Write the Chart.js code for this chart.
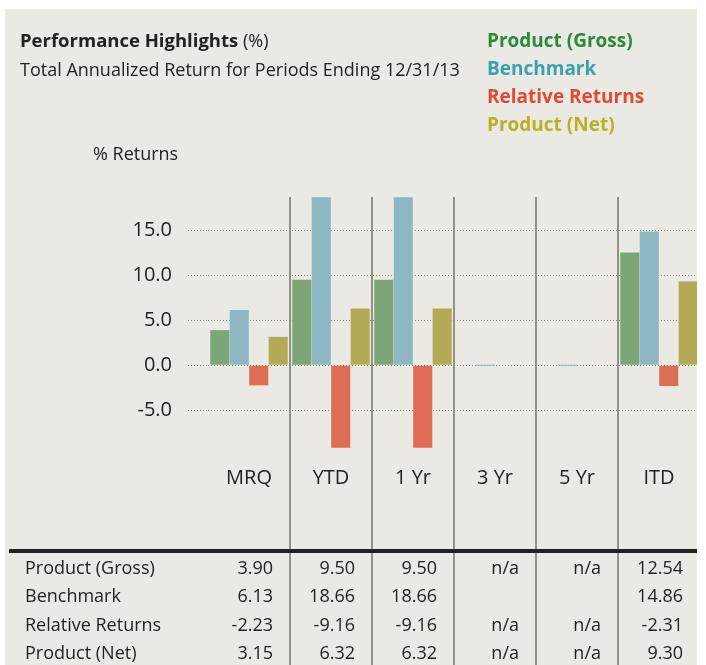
<!DOCTYPE html>
<html>
<head>
<meta charset="utf-8">
<script src="https://cdn.jsdelivr.net/npm/chart.js@4.4.1/dist/chart.umd.min.js"></script>
<style>
  body { margin: 0; background: #fff; width: 706px; height: 665px; overflow: hidden; }
  #panel { position: absolute; left: 5px; top: 9px; width: 692px; height: 656px; background: #eae9e3; overflow: hidden; }
  #page { position: absolute; left: -5px; top: -9px; width: 706px; height: 665px; }
  #page div.t { position: absolute; white-space: nowrap; font-family: "Open Sans", sans-serif; color: #222; }
  canvas { position: absolute; left: 0; top: 0; }
  #rule { position: absolute; left: 9px; top: 549px; width: 700px; height: 4px; background: #222; }
</style>
</head>
<body>
<div id="panel">
  <div id="page">
    <canvas id="myChart" width="706" height="665"></canvas>
    <div class="t" style="left:20px; top:27px; font-size:18px; line-height:26px;"><b style="font-size:18.5px">Performance Highlights</b> (%)</div>
    <div class="t" style="left:20px; top:56px; font-size:18px; line-height:26px;">Total Annualized Return for Periods Ending 12/31/13</div>
    <div id="legend"></div>
    <div class="t" style="left:93px; top:140px; font-size:18px; line-height:26px;">% Returns</div>
    <div id="rule"></div>
    <div id="table"></div>
  </div>
</div>
<script>
// categories and values
const periods = ['MRQ', 'YTD', '1 Yr', '3 Yr', '5 Yr', 'ITD'];
const seriesNames = ['Product (Gross)', 'Benchmark', 'Relative Returns', 'Product (Net)'];
const gross = [3.90, 9.50, 9.50, null, null, 12.54];
const benchmark = [6.13, 18.66, 18.66, 0, 0, 14.86];
const relative = [-2.23, -9.16, -9.16, null, null, -2.31];
const net = [3.15, 6.32, 6.32, null, null, 9.30];
const yTicks = [-5, 0, 5, 10, 15];

const barColors = ['#7ca677', '#8db8c3', '#dd6d54', '#b4aa55'];
const legendColors = ['#2b8a3e', '#3aa1ae', '#e04a31', '#b9b124'];
const allSeries = [gross, benchmark, relative, net];

// legend (html)
const legend = document.getElementById('legend');
seriesNames.forEach(function (name, i) {
	const d = document.createElement('div');
	d.className = 't';
	d.style.cssText = 'left:487px; top:' + (27 + i * 28) + 'px; font-size:19px; line-height:26px; font-weight:bold; color:' + legendColors[i];
	d.textContent = name;
	legend.appendChild(d);
});

const lineColor = '#929185';
function sepColor(ctx) {
	return ctx.index === 0 ? 'rgba(0,0,0,0)' : lineColor;
}

const chart = new Chart('myChart', {
	type: 'bar',
	data: {
		labels: periods,
		datasets: allSeries.map(function (vals, i) {
			return {
				label: seriesNames[i],
				data: vals,
				backgroundColor: barColors[i],
				borderWidth: 0,
				minBarLength: i === 1 ? 1 : 0,
				categoryPercentage: 0.95,
				barPercentage: 0.98
			};
		})
	},
	options: {
		responsive: false,
		animation: false,
		events: [],
		layout: { padding: { top: 197, right: 6, bottom: 0, left: 0 } },
		plugins: { legend: { display: false }, tooltip: { enabled: false } },
		scales: {
			x: {
				afterFit: function (s) { s.height = 217; },
				border: { display: false },
				grid: {
					offset: true,
					color: sepColor,
					tickColor: sepColor,
					lineWidth: 2,
					tickLength: 217
				},
				ticks: {
					padding: -199,
					color: '#222',
					font: { family: 'Open Sans', size: 20 }
				}
			},
			y: {
				min: -9.2,
				max: 18.7,
				afterFit: function (s) { s.width = 208; },
				afterBuildTicks: function (s) {
					s.ticks = yTicks.map(function (v) { return { value: v }; });
				},
				border: { display: false, dash: [1, 2] },
				grid: {
					color: '#8a8a82',
					lineWidth: 1,
					tickLength: 20,
					tickBorderDash: [1, 2]
				},
				ticks: {
					padding: 16,
					color: '#222',
					font: { family: 'Open Sans', size: 20 },
					callback: function (v) { return v.toFixed(1); }
				}
			}
		}
	}
});

// data table under the chart, columns taken from the x scale
function fmt(v, row) {
	if (v === null) return 'n/a';
	if (row === 1 && v === 0) return '';
	return v.toFixed(2);
}
const xs = chart.scales.x;
const colW = xs.width / periods.length;
const table = document.getElementById('table');
allSeries.forEach(function (vals, r) {
	const top = 554 + r * 28.4;
	const lab = document.createElement('div');
	lab.className = 't';
	lab.style.cssText = 'left:25px; top:' + top + 'px; font-size:18px; line-height:26px;';
	lab.textContent = seriesNames[r];
	table.appendChild(lab);
	vals.forEach(function (v, c) {
		const right = xs.getPixelForTick(c) + colW / 2 - 17;
		const d = document.createElement('div');
		d.className = 't';
		d.style.cssText = 'left:' + (right - 100) + 'px; width:100px; text-align:right; top:' + top + 'px; font-size:18px; line-height:26px;';
		d.textContent = fmt(v, r);
		table.appendChild(d);
	});
});
</script>
</body>
</html>
